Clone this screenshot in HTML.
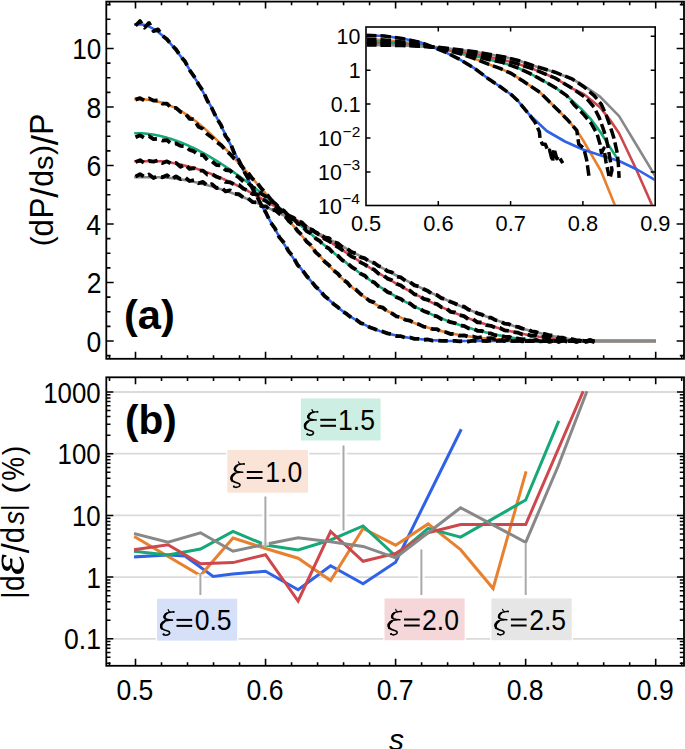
<!DOCTYPE html>
<html><head><meta charset="utf-8"><style>
html,body{margin:0;padding:0;background:#fff;}
svg{display:block;}
</style></head><body>
<svg width="685" height="749" viewBox="0 0 685 749">
<rect width="685" height="749" fill="#fff"/>
<defs><clipPath id="ca"><rect x="107" y="2.5" width="576" height="355.5"/></clipPath><clipPath id="cb"><rect x="107" y="378" width="576" height="287"/></clipPath><clipPath id="ci"><rect x="366.8" y="27.8" width="287.6" height="176.9"/></clipPath></defs>
<g clip-path="url(#ca)" fill="none" stroke-linejoin="round">
<polyline points="135.5,24.4 136.5,24.4 137.5,24.4 138.5,24.4 139.5,24.4 140.5,24.4 141.5,24.5 142.5,24.6 143.5,24.8 144.5,25.1 145.5,25.4 146.5,25.7 147.5,26.0 148.5,26.4 149.5,26.9 150.5,27.3 151.5,27.8 152.5,28.4 153.5,28.9 154.5,29.5 155.5,30.2 156.5,30.9 157.5,31.6 158.5,32.3 159.5,33.1 160.5,33.9 161.5,34.7 162.5,35.6 163.5,36.5 164.5,37.4 165.5,38.4 166.5,39.4 167.5,40.4 168.5,41.5 169.5,42.5 170.5,43.6 171.5,44.8 172.5,45.9 173.5,47.1 174.5,48.3 175.5,49.6 176.5,50.8 177.5,52.1 178.5,53.4 179.5,54.8 180.5,56.1 181.5,57.5 182.5,58.9 183.5,60.3 184.5,61.8 185.5,63.3 186.5,64.8 187.5,66.3 188.5,67.8 189.5,69.4 190.5,70.9 191.5,72.5 192.5,74.1 193.5,75.8 194.5,77.4 195.5,79.1 196.5,80.7 197.5,82.4 198.5,84.1 199.5,85.9 200.5,87.6 201.5,89.4 202.5,91.1 203.5,92.9 204.5,94.7 205.5,96.5 206.5,98.3 207.5,100.2 208.5,102.0 209.5,103.9 210.5,105.7 211.5,107.6 212.5,109.5 213.5,111.4 214.5,113.3 215.5,115.2 216.5,117.1 217.5,119.0 218.5,121.0 219.5,122.9 220.5,124.9 221.5,126.8 222.5,128.8 223.5,130.7 224.5,132.7 225.5,134.7 226.5,136.6 227.5,138.6 228.5,140.6 229.5,142.6 230.5,144.6 231.5,146.5 232.5,148.5 233.5,150.5 234.5,152.5 235.5,154.5 236.5,156.5 237.5,158.5 238.5,160.5 239.5,162.5 240.5,164.5 241.5,166.4 242.5,168.4 243.5,170.4 244.5,172.4 245.5,174.4 246.5,176.3 247.5,178.3 248.5,180.2 249.5,182.2 250.5,184.2 251.5,186.1 252.5,188.0 253.5,190.0 254.5,191.9 255.5,193.8 256.5,195.7 257.5,197.6 258.5,199.5 259.5,201.4 260.5,203.3 261.5,205.1 262.5,207.0 263.5,208.8 264.5,210.7 265.5,212.5 266.5,214.3 267.5,216.1 268.5,217.9 269.5,219.7 270.5,221.5 271.5,223.2 272.5,225.0 273.5,226.7 274.5,228.4 275.5,230.1 276.5,231.8 277.5,233.5 278.5,235.1 279.5,236.8 280.5,238.4 281.5,240.1 282.5,241.7 283.5,243.3 284.5,244.8 285.5,246.4 286.5,248.0 287.5,249.5 288.5,251.0 289.5,252.5 290.5,254.0 291.5,255.5 292.5,256.9 293.5,258.4 294.5,259.8 295.5,261.2 296.5,262.6 297.5,264.0 298.5,265.3 299.5,266.7 300.5,268.0 301.5,269.3 302.5,270.6 303.5,271.9 304.5,273.2 305.5,274.4 306.5,275.7 307.5,276.9 308.5,278.1 309.5,279.3 310.5,280.5 311.5,281.7 312.5,282.8 313.5,284.0 314.5,285.1 315.5,286.2 316.5,287.3 317.5,288.4 318.5,289.4 319.5,290.5 320.5,291.5 321.5,292.6 322.5,293.6 323.5,294.6 324.5,295.5 325.5,296.5 326.5,297.5 327.5,298.4 328.5,299.3 329.5,300.3 330.5,301.2 331.5,302.1 332.5,302.9 333.5,303.8 334.5,304.7 335.5,305.5 336.5,306.3 337.5,307.1 338.5,307.9 339.5,308.7 340.5,309.5 341.5,310.3 342.5,311.0 343.5,311.8 344.5,312.5 345.5,313.2 346.5,313.9 347.5,314.6 348.5,315.3 349.5,315.9 350.5,316.6 351.5,317.2 352.5,317.9 353.5,318.5 354.5,319.1 355.5,319.7 356.5,320.3 357.5,320.9 358.5,321.4 359.5,322.0 360.5,322.5 361.5,323.1 362.5,323.6 363.5,324.1 364.5,324.6 365.5,325.1 366.5,325.6 367.5,326.0 368.5,326.5 369.5,326.9 370.5,327.4 371.5,327.8 372.5,328.2 373.5,328.6 374.5,329.0 375.5,329.4 376.5,329.8 377.5,330.2 378.5,330.5 379.5,330.9 380.5,331.2 381.5,331.5 382.5,331.9 383.5,332.2 384.5,332.5 385.5,332.8 386.5,333.1 387.5,333.3 388.5,333.6 389.5,333.9 390.5,334.1 391.5,334.4 392.5,334.6 393.5,334.9 394.5,335.1 395.5,335.3 396.5,335.5 397.5,335.8 398.5,336.0 399.5,336.2 400.5,336.3 401.5,336.5 402.5,336.7 403.5,336.9 404.5,337.1 405.5,337.2 406.5,337.4 407.5,337.5 408.5,337.7 409.5,337.8 410.5,338.0 411.5,338.1 412.5,338.2 413.5,338.4 414.5,338.5 415.5,338.6 416.5,338.7 417.5,338.8 418.5,338.9 419.5,339.1 420.5,339.2 421.5,339.3 422.5,339.4 423.5,339.5 424.5,339.5 425.5,339.6 426.5,339.7 427.5,339.8 428.5,339.9 429.5,340.0 430.5,340.0 431.5,340.1 432.5,340.2 433.5,340.2 434.5,340.3 435.5,340.4 436.5,340.4 437.5,340.5 438.5,340.5 439.5,340.6 440.5,340.6 441.5,340.7 442.5,340.7 443.5,340.7 444.5,341.0 445.5,341.0 446.5,341.0 447.5,341.0 448.5,341.0 449.5,341.0 450.5,341.0 451.5,341.0 452.5,341.0 453.5,341.0 454.5,341.0 455.5,341.0 456.5,341.0 457.5,341.0 458.5,341.0 459.5,341.0 460.5,341.0 461.5,341.0 462.5,341.0 463.5,341.0 464.5,341.0 465.5,341.0 466.5,341.0 467.5,341.0 468.5,341.0 469.5,341.0 470.5,341.0 471.5,341.0 472.5,341.0 473.5,341.0 474.5,341.0 475.5,341.0 476.5,341.0 477.5,341.0 478.5,341.0 479.5,341.0 480.5,341.0 481.5,341.0 482.5,341.0 483.5,341.0 484.5,341.0 485.5,341.0 486.5,341.0 487.5,341.0 488.5,341.0 489.5,341.0 490.5,341.0 491.5,341.0 492.5,341.0 493.5,341.0 494.5,341.0 495.5,341.0 496.5,341.0 497.5,341.0 498.5,341.0 499.5,341.0 500.5,341.0 501.5,341.0 502.5,341.0 503.5,341.0 504.5,341.0 505.5,341.0 506.5,341.0 507.5,341.0 508.5,341.0 509.5,341.0 510.5,341.0 511.5,341.0 512.5,341.0 513.5,341.0 514.5,341.0 515.5,341.0 516.5,341.0 517.5,341.0 518.5,341.0 519.5,341.0 520.5,341.0 521.5,341.0 522.5,341.0 523.5,341.0 524.5,341.0 525.5,341.0 526.5,341.0 527.5,341.0 528.5,341.0 529.5,341.0 530.5,341.0 531.5,341.0 532.5,341.0 533.5,341.0 534.5,341.0 535.5,341.0 536.5,341.0 537.5,341.0 538.5,341.0 539.5,341.0 540.5,341.0 541.5,341.0 542.5,341.0 543.5,341.0 544.5,341.0 545.5,341.0 546.5,341.0 547.5,341.0 548.5,341.0 549.5,341.0 550.5,341.0 551.5,341.0 552.5,341.0 553.5,341.0 554.5,341.0 555.5,341.0 556.5,341.0 557.5,341.0 558.5,341.0 559.5,341.0 560.5,341.0 561.5,341.0 562.5,341.0 563.5,341.0 564.5,341.0 565.5,341.0 566.5,341.0 567.5,341.0 568.5,341.0 569.5,341.0 570.5,341.0 571.5,341.0 572.5,341.0 573.5,341.0 574.5,341.0 575.5,341.0 576.5,341.0 577.5,341.0 578.5,341.0 579.5,341.0 580.5,341.0 581.5,341.0 582.5,341.0 583.5,341.0 584.5,341.0 585.5,341.0 586.5,341.0 587.5,341.0 588.5,341.0 589.5,341.0 590.5,341.0 591.5,341.0 592.5,341.0 593.5,341.0 594.5,341.0 595.5,341.0 596.5,341.0 597.5,341.0 598.5,341.0 599.5,341.0 600.5,341.0 601.5,341.0 602.5,341.0 603.5,341.0 604.5,341.0 605.5,341.0 606.5,341.0 607.5,341.0 608.5,341.0 609.5,341.0 610.5,341.0 611.5,341.0 612.5,341.0 613.5,341.0 614.5,341.0 615.5,341.0 616.5,341.0 617.5,341.0 618.5,341.0 619.5,341.0 620.5,341.0 621.5,341.0 622.5,341.0 623.5,341.0 624.5,341.0 625.5,341.0 626.5,341.0 627.5,341.0 628.5,341.0 629.5,341.0 630.5,341.0 631.5,341.0 632.5,341.0 633.5,341.0 634.5,341.0 635.5,341.0 636.5,341.0 637.5,341.0 638.5,341.0 639.5,341.0 640.5,341.0 641.5,341.0 642.5,341.0 643.5,341.0 644.5,341.0 645.5,341.0 646.5,341.0 647.5,341.0 648.5,341.0 649.5,341.0 650.5,341.0 651.5,341.0 652.5,341.0 653.5,341.0 654.5,341.0" stroke="#2f62e6" stroke-width="2.6" stroke-linecap="square"/>
<polyline points="135.5,99.1 136.5,99.1 137.5,99.1 138.5,99.1 139.5,99.1 140.5,99.2 141.5,99.2 142.5,99.3 143.5,99.3 144.5,99.4 145.5,99.5 146.5,99.6 147.5,99.7 148.5,99.8 149.5,100.0 150.5,100.1 151.5,100.3 152.5,100.4 153.5,100.6 154.5,100.8 155.5,101.0 156.5,101.3 157.5,101.5 158.5,101.8 159.5,102.0 160.5,102.3 161.5,102.6 162.5,102.9 163.5,103.2 164.5,103.6 165.5,103.9 166.5,104.3 167.5,104.7 168.5,105.0 169.5,105.4 170.5,105.9 171.5,106.3 172.5,106.7 173.5,107.2 174.5,107.7 175.5,108.2 176.5,108.7 177.5,109.2 178.5,109.7 179.5,110.3 180.5,110.9 181.5,111.4 182.5,112.0 183.5,112.6 184.5,113.3 185.5,113.9 186.5,114.6 187.5,115.2 188.5,115.9 189.5,116.6 190.5,117.3 191.5,118.0 192.5,118.8 193.5,119.5 194.5,120.3 195.5,121.0 196.5,121.8 197.5,122.6 198.5,123.4 199.5,124.2 200.5,125.1 201.5,125.9 202.5,126.8 203.5,127.6 204.5,128.5 205.5,129.4 206.5,130.3 207.5,131.2 208.5,132.1 209.5,133.0 210.5,133.9 211.5,134.9 212.5,135.8 213.5,136.8 214.5,137.7 215.5,138.7 216.5,139.7 217.5,140.6 218.5,141.6 219.5,142.6 220.5,143.6 221.5,144.7 222.5,145.7 223.5,146.7 224.5,147.7 225.5,148.8 226.5,149.8 227.5,150.9 228.5,151.9 229.5,153.0 230.5,154.1 231.5,155.1 232.5,156.2 233.5,157.3 234.5,158.4 235.5,159.5 236.5,160.6 237.5,161.7 238.5,162.8 239.5,163.9 240.5,165.0 241.5,166.1 242.5,167.2 243.5,168.3 244.5,169.4 245.5,170.5 246.5,171.7 247.5,172.8 248.5,173.9 249.5,175.1 250.5,176.2 251.5,177.3 252.5,178.4 253.5,179.6 254.5,180.7 255.5,181.8 256.5,183.0 257.5,184.1 258.5,185.3 259.5,186.4 260.5,187.5 261.5,188.7 262.5,189.8 263.5,191.0 264.5,192.1 265.5,193.3 266.5,194.4 267.5,195.6 268.5,196.7 269.5,197.9 270.5,199.0 271.5,200.2 272.5,201.4 273.5,202.5 274.5,203.7 275.5,204.9 276.5,206.0 277.5,207.2 278.5,208.4 279.5,209.5 280.5,210.7 281.5,211.9 282.5,213.1 283.5,214.2 284.5,215.4 285.5,216.6 286.5,217.8 287.5,218.9 288.5,220.1 289.5,221.3 290.5,222.5 291.5,223.7 292.5,224.8 293.5,226.0 294.5,227.2 295.5,228.4 296.5,229.5 297.5,230.7 298.5,231.9 299.5,233.0 300.5,234.2 301.5,235.3 302.5,236.5 303.5,237.7 304.5,238.8 305.5,240.0 306.5,241.1 307.5,242.3 308.5,243.4 309.5,244.5 310.5,245.7 311.5,246.8 312.5,247.9 313.5,249.0 314.5,250.2 315.5,251.3 316.5,252.4 317.5,253.5 318.5,254.6 319.5,255.7 320.5,256.7 321.5,257.8 322.5,258.9 323.5,260.0 324.5,261.0 325.5,262.1 326.5,263.1 327.5,264.2 328.5,265.2 329.5,266.3 330.5,267.3 331.5,268.3 332.5,269.3 333.5,270.3 334.5,271.3 335.5,272.3 336.5,273.3 337.5,274.2 338.5,275.2 339.5,276.1 340.5,277.1 341.5,278.0 342.5,278.9 343.5,279.9 344.5,280.8 345.5,281.7 346.5,282.5 347.5,283.4 348.5,284.3 349.5,285.2 350.5,286.0 351.5,286.8 352.5,287.7 353.5,288.5 354.5,289.3 355.5,290.1 356.5,290.9 357.5,291.7 358.5,292.4 359.5,293.2 360.5,294.0 361.5,294.7 362.5,295.4 363.5,296.2 364.5,296.9 365.5,297.6 366.5,298.3 367.5,299.0 368.5,299.7 369.5,300.3 370.5,301.0 371.5,301.7 372.5,302.3 373.5,303.0 374.5,303.6 375.5,304.2 376.5,304.8 377.5,305.4 378.5,306.0 379.5,306.6 380.5,307.2 381.5,307.8 382.5,308.4 383.5,308.9 384.5,309.5 385.5,310.0 386.5,310.6 387.5,311.1 388.5,311.6 389.5,312.2 390.5,312.7 391.5,313.2 392.5,313.7 393.5,314.2 394.5,314.7 395.5,315.1 396.5,315.6 397.5,316.1 398.5,316.5 399.5,317.0 400.5,317.4 401.5,317.9 402.5,318.3 403.5,318.7 404.5,319.2 405.5,319.6 406.5,320.0 407.5,320.4 408.5,320.8 409.5,321.2 410.5,321.6 411.5,321.9 412.5,322.3 413.5,322.7 414.5,323.1 415.5,323.4 416.5,323.8 417.5,324.1 418.5,324.5 419.5,324.8 420.5,325.1 421.5,325.5 422.5,325.8 423.5,326.1 424.5,326.4 425.5,326.7 426.5,327.1 427.5,327.4 428.5,327.7 429.5,327.9 430.5,328.2 431.5,328.5 432.5,328.8 433.5,329.1 434.5,329.4 435.5,329.6 436.5,329.9 437.5,330.1 438.5,330.4 439.5,330.7 440.5,330.9 441.5,331.1 442.5,331.4 443.5,331.6 444.5,331.9 445.5,332.1 446.5,332.3 447.5,332.5 448.5,332.7 449.5,333.0 450.5,333.2 451.5,333.4 452.5,333.6 453.5,333.8 454.5,334.0 455.5,334.2 456.5,334.4 457.5,334.5 458.5,334.7 459.5,334.9 460.5,335.1 461.5,335.2 462.5,335.4 463.5,335.6 464.5,335.7 465.5,335.9 466.5,336.0 467.5,336.2 468.5,336.3 469.5,336.5 470.5,336.6 471.5,336.8 472.5,336.9 473.5,337.0 474.5,337.2 475.5,337.3 476.5,337.4 477.5,337.5 478.5,337.7 479.5,337.8 480.5,337.9 481.5,338.0 482.5,338.1 483.5,338.2 484.5,338.3 485.5,338.4 486.5,338.5 487.5,338.6 488.5,338.7 489.5,338.8 490.5,338.8 491.5,338.9 492.5,339.0 493.5,339.1 494.5,339.2 495.5,339.2 496.5,339.3 497.5,339.4 498.5,339.4 499.5,339.5 500.5,339.6 501.5,339.6 502.5,339.7 503.5,339.7 504.5,339.8 505.5,339.8 506.5,339.9 507.5,339.9 508.5,340.0 509.5,340.0 510.5,340.1 511.5,340.1 512.5,340.1 513.5,340.2 514.5,340.2 515.5,340.2 516.5,340.3 517.5,340.3 518.5,340.3 519.5,340.4 520.5,340.4 521.5,340.4 522.5,340.4 523.5,340.4 524.5,340.5 525.5,340.5 526.5,340.5 527.5,340.5 528.5,340.5 529.5,340.5 530.5,341.0 531.5,341.0 532.5,341.0 533.5,341.0 534.5,341.0 535.5,341.0 536.5,341.0 537.5,341.0 538.5,341.0 539.5,341.0 540.5,341.0 541.5,341.0 542.5,341.0 543.5,341.0 544.5,341.0 545.5,341.0 546.5,341.0 547.5,341.0 548.5,341.0 549.5,341.0 550.5,341.0 551.5,341.0 552.5,341.0 553.5,341.0 554.5,341.0 555.5,341.0 556.5,341.0 557.5,341.0 558.5,341.0 559.5,341.0 560.5,341.0 561.5,341.0 562.5,341.0 563.5,341.0 564.5,341.0 565.5,341.0 566.5,341.0 567.5,341.0 568.5,341.0 569.5,341.0 570.5,341.0 571.5,341.0 572.5,341.0 573.5,341.0 574.5,341.0 575.5,341.0 576.5,341.0 577.5,341.0 578.5,341.0 579.5,341.0 580.5,341.0 581.5,341.0 582.5,341.0 583.5,341.0 584.5,341.0 585.5,341.0 586.5,341.0 587.5,341.0 588.5,341.0 589.5,341.0 590.5,341.0 591.5,341.0 592.5,341.0 593.5,341.0 594.5,341.0 595.5,341.0 596.5,341.0 597.5,341.0 598.5,341.0 599.5,341.0 600.5,341.0 601.5,341.0 602.5,341.0 603.5,341.0 604.5,341.0 605.5,341.0 606.5,341.0 607.5,341.0 608.5,341.0 609.5,341.0 610.5,341.0 611.5,341.0 612.5,341.0 613.5,341.0 614.5,341.0 615.5,341.0 616.5,341.0 617.5,341.0 618.5,341.0 619.5,341.0 620.5,341.0 621.5,341.0 622.5,341.0 623.5,341.0 624.5,341.0 625.5,341.0 626.5,341.0 627.5,341.0 628.5,341.0 629.5,341.0 630.5,341.0 631.5,341.0 632.5,341.0 633.5,341.0 634.5,341.0 635.5,341.0 636.5,341.0 637.5,341.0 638.5,341.0 639.5,341.0 640.5,341.0 641.5,341.0 642.5,341.0 643.5,341.0 644.5,341.0 645.5,341.0 646.5,341.0 647.5,341.0 648.5,341.0 649.5,341.0 650.5,341.0 651.5,341.0 652.5,341.0 653.5,341.0 654.5,341.0" stroke="#e8812f" stroke-width="2.6" stroke-linecap="square"/>
<polyline points="135.5,133.2 136.5,133.2 137.5,133.2 138.5,133.2 139.5,133.2 140.5,133.3 141.5,133.3 142.5,133.4 143.5,133.5 144.5,133.5 145.5,133.6 146.5,133.7 147.5,133.8 148.5,133.9 149.5,134.1 150.5,134.2 151.5,134.3 152.5,134.5 153.5,134.7 154.5,134.8 155.5,135.0 156.5,135.2 157.5,135.4 158.5,135.6 159.5,135.8 160.5,136.1 161.5,136.3 162.5,136.5 163.5,136.8 164.5,137.0 165.5,137.3 166.5,137.6 167.5,137.9 168.5,138.2 169.5,138.5 170.5,138.8 171.5,139.1 172.5,139.4 173.5,139.8 174.5,140.1 175.5,140.5 176.5,140.8 177.5,141.2 178.5,141.6 179.5,141.9 180.5,142.3 181.5,142.7 182.5,143.1 183.5,143.5 184.5,144.0 185.5,144.4 186.5,144.8 187.5,145.2 188.5,145.7 189.5,146.1 190.5,146.6 191.5,147.1 192.5,147.5 193.5,148.0 194.5,148.5 195.5,149.0 196.5,149.5 197.5,150.0 198.5,150.5 199.5,151.1 200.5,151.6 201.5,152.1 202.5,152.7 203.5,153.2 204.5,153.7 205.5,154.3 206.5,154.9 207.5,155.4 208.5,156.0 209.5,156.6 210.5,157.2 211.5,157.8 212.5,158.4 213.5,159.0 214.5,159.6 215.5,160.2 216.5,160.8 217.5,161.4 218.5,162.1 219.5,162.7 220.5,163.3 221.5,164.0 222.5,164.6 223.5,165.3 224.5,165.9 225.5,166.6 226.5,167.3 227.5,167.9 228.5,168.6 229.5,169.3 230.5,170.0 231.5,170.7 232.5,171.4 233.5,172.1 234.5,172.8 235.5,173.5 236.5,174.2 237.5,174.9 238.5,175.6 239.5,176.3 240.5,177.1 241.5,177.8 242.5,178.5 243.5,179.3 244.5,180.0 245.5,180.8 246.5,181.5 247.5,182.3 248.5,183.0 249.5,183.8 250.5,184.5 251.5,185.3 252.5,186.1 253.5,186.8 254.5,187.6 255.5,188.4 256.5,189.2 257.5,190.0 258.5,190.7 259.5,191.5 260.5,192.3 261.5,193.1 262.5,193.9 263.5,194.7 264.5,195.5 265.5,196.3 266.5,197.1 267.5,197.9 268.5,198.7 269.5,199.5 270.5,200.3 271.5,201.2 272.5,202.0 273.5,202.8 274.5,203.6 275.5,204.4 276.5,205.2 277.5,206.1 278.5,206.9 279.5,207.7 280.5,208.5 281.5,209.4 282.5,210.2 283.5,211.0 284.5,211.9 285.5,212.7 286.5,213.5 287.5,214.4 288.5,215.2 289.5,216.0 290.5,216.9 291.5,217.7 292.5,218.6 293.5,219.4 294.5,220.2 295.5,221.1 296.5,221.9 297.5,222.8 298.5,223.6 299.5,224.4 300.5,225.3 301.5,226.1 302.5,227.0 303.5,227.8 304.5,228.6 305.5,229.5 306.5,230.3 307.5,231.2 308.5,232.0 309.5,232.8 310.5,233.7 311.5,234.5 312.5,235.3 313.5,236.2 314.5,237.0 315.5,237.8 316.5,238.7 317.5,239.5 318.5,240.3 319.5,241.2 320.5,242.0 321.5,242.8 322.5,243.7 323.5,244.5 324.5,245.3 325.5,246.1 326.5,246.9 327.5,247.8 328.5,248.6 329.5,249.4 330.5,250.2 331.5,251.0 332.5,251.8 333.5,252.6 334.5,253.4 335.5,254.2 336.5,255.0 337.5,255.8 338.5,256.6 339.5,257.4 340.5,258.2 341.5,259.0 342.5,259.8 343.5,260.6 344.5,261.4 345.5,262.1 346.5,262.9 347.5,263.7 348.5,264.5 349.5,265.2 350.5,266.0 351.5,266.8 352.5,267.5 353.5,268.3 354.5,269.0 355.5,269.8 356.5,270.5 357.5,271.2 358.5,272.0 359.5,272.7 360.5,273.4 361.5,274.2 362.5,274.9 363.5,275.6 364.5,276.3 365.5,277.0 366.5,277.7 367.5,278.4 368.5,279.1 369.5,279.8 370.5,280.5 371.5,281.2 372.5,281.9 373.5,282.6 374.5,283.2 375.5,283.9 376.5,284.6 377.5,285.2 378.5,285.9 379.5,286.5 380.5,287.2 381.5,287.8 382.5,288.4 383.5,289.1 384.5,289.7 385.5,290.3 386.5,290.9 387.5,291.6 388.5,292.2 389.5,292.8 390.5,293.4 391.5,294.0 392.5,294.5 393.5,295.1 394.5,295.7 395.5,296.3 396.5,296.9 397.5,297.4 398.5,298.0 399.5,298.6 400.5,299.1 401.5,299.7 402.5,300.2 403.5,300.8 404.5,301.3 405.5,301.8 406.5,302.4 407.5,302.9 408.5,303.4 409.5,303.9 410.5,304.5 411.5,305.0 412.5,305.5 413.5,306.0 414.5,306.5 415.5,307.0 416.5,307.5 417.5,307.9 418.5,308.4 419.5,308.9 420.5,309.4 421.5,309.9 422.5,310.3 423.5,310.8 424.5,311.2 425.5,311.7 426.5,312.1 427.5,312.6 428.5,313.0 429.5,313.5 430.5,313.9 431.5,314.3 432.5,314.8 433.5,315.2 434.5,315.6 435.5,316.0 436.5,316.4 437.5,316.9 438.5,317.3 439.5,317.7 440.5,318.1 441.5,318.5 442.5,318.8 443.5,319.2 444.5,319.6 445.5,320.0 446.5,320.4 447.5,320.7 448.5,321.1 449.5,321.5 450.5,321.8 451.5,322.2 452.5,322.5 453.5,322.9 454.5,323.2 455.5,323.6 456.5,323.9 457.5,324.3 458.5,324.6 459.5,324.9 460.5,325.3 461.5,325.6 462.5,325.9 463.5,326.2 464.5,326.5 465.5,326.8 466.5,327.1 467.5,327.4 468.5,327.7 469.5,328.0 470.5,328.3 471.5,328.6 472.5,328.9 473.5,329.2 474.5,329.5 475.5,329.7 476.5,330.0 477.5,330.3 478.5,330.6 479.5,330.8 480.5,331.1 481.5,331.3 482.5,331.6 483.5,331.8 484.5,332.1 485.5,332.3 486.5,332.6 487.5,332.8 488.5,333.1 489.5,333.3 490.5,333.5 491.5,333.7 492.5,334.0 493.5,334.2 494.5,334.4 495.5,334.6 496.5,334.8 497.5,335.0 498.5,335.2 499.5,335.4 500.5,335.6 501.5,335.8 502.5,336.0 503.5,336.2 504.5,336.4 505.5,336.6 506.5,336.8 507.5,337.0 508.5,337.1 509.5,337.3 510.5,337.5 511.5,337.6 512.5,337.8 513.5,338.0 514.5,338.1 515.5,338.3 516.5,338.4 517.5,338.6 518.5,338.8 519.5,338.9 520.5,339.0 521.5,339.2 522.5,339.3 523.5,339.5 524.5,339.6 525.5,339.7 526.5,339.9 527.5,340.0 528.5,340.1 529.5,340.2 530.5,340.3 531.5,340.5 532.5,341.0 533.5,341.0 534.5,341.0 535.5,341.0 536.5,341.0 537.5,341.0 538.5,341.0 539.5,341.0 540.5,341.0 541.5,341.0 542.5,341.0 543.5,341.0 544.5,341.0 545.5,341.0 546.5,341.0 547.5,341.0 548.5,341.0 549.5,341.0 550.5,341.0 551.5,341.0 552.5,341.0 553.5,341.0 554.5,341.0 555.5,341.0 556.5,341.0 557.5,341.0 558.5,341.0 559.5,341.0 560.5,341.0 561.5,341.0 562.5,341.0 563.5,341.0 564.5,341.0 565.5,341.0 566.5,341.0 567.5,341.0 568.5,341.0 569.5,341.0 570.5,341.0 571.5,341.0 572.5,341.0 573.5,341.0 574.5,341.0 575.5,341.0 576.5,341.0 577.5,341.0 578.5,341.0 579.5,341.0 580.5,341.0 581.5,341.0 582.5,341.0 583.5,341.0 584.5,341.0 585.5,341.0 586.5,341.0 587.5,341.0 588.5,341.0 589.5,341.0 590.5,341.0 591.5,341.0 592.5,341.0 593.5,341.0 594.5,341.0 595.5,341.0 596.5,341.0 597.5,341.0 598.5,341.0 599.5,341.0 600.5,341.0 601.5,341.0 602.5,341.0 603.5,341.0 604.5,341.0 605.5,341.0 606.5,341.0 607.5,341.0 608.5,341.0 609.5,341.0 610.5,341.0 611.5,341.0 612.5,341.0 613.5,341.0 614.5,341.0 615.5,341.0 616.5,341.0 617.5,341.0 618.5,341.0 619.5,341.0 620.5,341.0 621.5,341.0 622.5,341.0 623.5,341.0 624.5,341.0 625.5,341.0 626.5,341.0 627.5,341.0 628.5,341.0 629.5,341.0 630.5,341.0 631.5,341.0 632.5,341.0 633.5,341.0 634.5,341.0 635.5,341.0 636.5,341.0 637.5,341.0 638.5,341.0 639.5,341.0 640.5,341.0 641.5,341.0 642.5,341.0 643.5,341.0 644.5,341.0 645.5,341.0 646.5,341.0 647.5,341.0 648.5,341.0 649.5,341.0 650.5,341.0 651.5,341.0 652.5,341.0 653.5,341.0 654.5,341.0" stroke="#15a878" stroke-width="2.6" stroke-linecap="square"/>
<polyline points="135.5,161.2 136.5,161.2 137.5,161.2 138.5,161.2 139.5,161.2 140.5,161.2 141.5,161.2 142.5,161.2 143.5,161.2 144.5,161.2 145.5,161.2 146.5,161.2 147.5,161.2 148.5,161.2 149.5,161.2 150.5,161.2 151.5,161.2 152.5,161.2 153.5,161.2 154.5,161.2 155.5,161.2 156.5,161.2 157.5,161.2 158.5,161.2 159.5,161.2 160.5,161.3 161.5,161.4 162.5,161.5 163.5,161.6 164.5,161.7 165.5,161.9 166.5,162.0 167.5,162.1 168.5,162.3 169.5,162.4 170.5,162.6 171.5,162.7 172.5,162.9 173.5,163.1 174.5,163.3 175.5,163.5 176.5,163.6 177.5,163.8 178.5,164.1 179.5,164.3 180.5,164.5 181.5,164.7 182.5,164.9 183.5,165.2 184.5,165.4 185.5,165.7 186.5,165.9 187.5,166.2 188.5,166.4 189.5,166.7 190.5,167.0 191.5,167.3 192.5,167.6 193.5,167.9 194.5,168.2 195.5,168.5 196.5,168.8 197.5,169.1 198.5,169.4 199.5,169.7 200.5,170.1 201.5,170.4 202.5,170.7 203.5,171.1 204.5,171.4 205.5,171.8 206.5,172.2 207.5,172.5 208.5,172.9 209.5,173.3 210.5,173.6 211.5,174.0 212.5,174.4 213.5,174.8 214.5,175.2 215.5,175.6 216.5,176.0 217.5,176.4 218.5,176.9 219.5,177.3 220.5,177.7 221.5,178.1 222.5,178.6 223.5,179.0 224.5,179.5 225.5,179.9 226.5,180.4 227.5,180.8 228.5,181.3 229.5,181.7 230.5,182.2 231.5,182.7 232.5,183.2 233.5,183.6 234.5,184.1 235.5,184.6 236.5,185.1 237.5,185.6 238.5,186.1 239.5,186.6 240.5,187.1 241.5,187.6 242.5,188.1 243.5,188.6 244.5,189.2 245.5,189.7 246.5,190.2 247.5,190.7 248.5,191.3 249.5,191.8 250.5,192.3 251.5,192.9 252.5,193.4 253.5,194.0 254.5,194.5 255.5,195.1 256.5,195.6 257.5,196.2 258.5,196.8 259.5,197.3 260.5,197.9 261.5,198.5 262.5,199.1 263.5,199.6 264.5,200.2 265.5,200.8 266.5,201.4 267.5,202.0 268.5,202.6 269.5,203.2 270.5,203.7 271.5,204.3 272.5,204.9 273.5,205.5 274.5,206.1 275.5,206.8 276.5,207.4 277.5,208.0 278.5,208.6 279.5,209.2 280.5,209.8 281.5,210.4 282.5,211.1 283.5,211.7 284.5,212.3 285.5,212.9 286.5,213.5 287.5,214.2 288.5,214.8 289.5,215.4 290.5,216.1 291.5,216.7 292.5,217.3 293.5,218.0 294.5,218.6 295.5,219.3 296.5,219.9 297.5,220.5 298.5,221.2 299.5,221.8 300.5,222.5 301.5,223.1 302.5,223.8 303.5,224.4 304.5,225.1 305.5,225.7 306.5,226.4 307.5,227.0 308.5,227.7 309.5,228.3 310.5,229.0 311.5,229.7 312.5,230.3 313.5,231.0 314.5,231.6 315.5,232.3 316.5,233.0 317.5,233.6 318.5,234.3 319.5,234.9 320.5,235.6 321.5,236.3 322.5,236.9 323.5,237.6 324.5,238.2 325.5,238.9 326.5,239.6 327.5,240.2 328.5,240.9 329.5,241.5 330.5,242.2 331.5,242.9 332.5,243.5 333.5,244.2 334.5,244.9 335.5,245.5 336.5,246.2 337.5,246.8 338.5,247.5 339.5,248.2 340.5,248.8 341.5,249.5 342.5,250.1 343.5,250.8 344.5,251.4 345.5,252.1 346.5,252.8 347.5,253.4 348.5,254.1 349.5,254.7 350.5,255.4 351.5,256.0 352.5,256.7 353.5,257.3 354.5,258.0 355.5,258.6 356.5,259.3 357.5,259.9 358.5,260.6 359.5,261.2 360.5,261.8 361.5,262.5 362.5,263.1 363.5,263.7 364.5,264.4 365.5,265.0 366.5,265.6 367.5,266.3 368.5,266.9 369.5,267.5 370.5,268.2 371.5,268.8 372.5,269.4 373.5,270.0 374.5,270.6 375.5,271.3 376.5,271.9 377.5,272.5 378.5,273.1 379.5,273.7 380.5,274.3 381.5,274.9 382.5,275.5 383.5,276.1 384.5,276.7 385.5,277.3 386.5,277.9 387.5,278.5 388.5,279.1 389.5,279.7 390.5,280.3 391.5,280.9 392.5,281.4 393.5,282.0 394.5,282.6 395.5,283.2 396.5,283.7 397.5,284.3 398.5,284.9 399.5,285.4 400.5,286.0 401.5,286.6 402.5,287.1 403.5,287.7 404.5,288.2 405.5,288.8 406.5,289.4 407.5,289.9 408.5,290.4 409.5,291.0 410.5,291.5 411.5,292.1 412.5,292.6 413.5,293.1 414.5,293.7 415.5,294.2 416.5,294.7 417.5,295.3 418.5,295.8 419.5,296.3 420.5,296.8 421.5,297.3 422.5,297.8 423.5,298.3 424.5,298.8 425.5,299.4 426.5,299.9 427.5,300.4 428.5,300.8 429.5,301.3 430.5,301.8 431.5,302.3 432.5,302.8 433.5,303.3 434.5,303.8 435.5,304.2 436.5,304.7 437.5,305.2 438.5,305.7 439.5,306.1 440.5,306.6 441.5,307.0 442.5,307.5 443.5,308.0 444.5,308.4 445.5,308.9 446.5,309.3 447.5,309.7 448.5,310.2 449.5,310.6 450.5,311.1 451.5,311.5 452.5,311.9 453.5,312.3 454.5,312.8 455.5,313.2 456.5,313.6 457.5,314.0 458.5,314.4 459.5,314.8 460.5,315.2 461.5,315.6 462.5,316.0 463.5,316.4 464.5,316.8 465.5,317.2 466.5,317.6 467.5,318.0 468.5,318.3 469.5,318.7 470.5,319.1 471.5,319.5 472.5,319.8 473.5,320.2 474.5,320.5 475.5,320.9 476.5,321.2 477.5,321.6 478.5,321.9 479.5,322.3 480.5,322.6 481.5,323.0 482.5,323.3 483.5,323.6 484.5,323.9 485.5,324.3 486.5,324.6 487.5,324.9 488.5,325.2 489.5,325.5 490.5,325.8 491.5,326.1 492.5,326.4 493.5,326.7 494.5,327.0 495.5,327.3 496.5,327.6 497.5,327.8 498.5,328.1 499.5,328.4 500.5,328.7 501.5,328.9 502.5,329.2 503.5,329.4 504.5,329.7 505.5,330.0 506.5,330.2 507.5,330.5 508.5,330.7 509.5,330.9 510.5,331.2 511.5,331.4 512.5,331.6 513.5,331.9 514.5,332.1 515.5,332.3 516.5,332.5 517.5,332.8 518.5,333.0 519.5,333.2 520.5,333.4 521.5,333.6 522.5,333.8 523.5,334.0 524.5,334.2 525.5,334.4 526.5,334.6 527.5,334.7 528.5,334.9 529.5,335.1 530.5,335.3 531.5,335.5 532.5,335.6 533.5,335.8 534.5,336.0 535.5,336.1 536.5,336.3 537.5,336.4 538.5,336.6 539.5,336.7 540.5,336.9 541.5,337.0 542.5,337.2 543.5,337.3 544.5,337.5 545.5,337.6 546.5,337.7 547.5,337.9 548.5,338.0 549.5,338.1 550.5,338.2 551.5,338.4 552.5,338.5 553.5,338.6 554.5,338.7 555.5,338.8 556.5,338.9 557.5,339.0 558.5,339.1 559.5,339.2 560.5,339.3 561.5,339.4 562.5,339.5 563.5,339.6 564.5,339.7 565.5,339.8 566.5,339.9 567.5,339.9 568.5,340.0 569.5,340.1 570.5,340.2 571.5,340.2 572.5,340.3 573.5,340.4 574.5,340.4 575.5,341.0 576.5,341.0 577.5,341.0 578.5,341.0 579.5,341.0 580.5,341.0 581.5,341.0 582.5,341.0 583.5,341.0 584.5,341.0 585.5,341.0 586.5,341.0 587.5,341.0 588.5,341.0 589.5,341.0 590.5,341.0 591.5,341.0 592.5,341.0 593.5,341.0 594.5,341.0 595.5,341.0 596.5,341.0 597.5,341.0 598.5,341.0 599.5,341.0 600.5,341.0 601.5,341.0 602.5,341.0 603.5,341.0 604.5,341.0 605.5,341.0 606.5,341.0 607.5,341.0 608.5,341.0 609.5,341.0 610.5,341.0 611.5,341.0 612.5,341.0 613.5,341.0 614.5,341.0 615.5,341.0 616.5,341.0 617.5,341.0 618.5,341.0 619.5,341.0 620.5,341.0 621.5,341.0 622.5,341.0 623.5,341.0 624.5,341.0 625.5,341.0 626.5,341.0 627.5,341.0 628.5,341.0 629.5,341.0 630.5,341.0 631.5,341.0 632.5,341.0 633.5,341.0 634.5,341.0 635.5,341.0 636.5,341.0 637.5,341.0 638.5,341.0 639.5,341.0 640.5,341.0 641.5,341.0 642.5,341.0 643.5,341.0 644.5,341.0 645.5,341.0 646.5,341.0 647.5,341.0 648.5,341.0 649.5,341.0 650.5,341.0 651.5,341.0 652.5,341.0 653.5,341.0 654.5,341.0" stroke="#cd474c" stroke-width="2.6" stroke-linecap="square"/>
<polyline points="135.5,177.3 136.5,177.3 137.5,177.3 138.5,177.3 139.5,177.3 140.5,177.3 141.5,177.3 142.5,177.3 143.5,177.3 144.5,177.3 145.5,177.3 146.5,177.3 147.5,177.3 148.5,177.3 149.5,177.3 150.5,177.3 151.5,177.3 152.5,177.3 153.5,177.3 154.5,177.3 155.5,177.3 156.5,177.3 157.5,177.3 158.5,177.3 159.5,177.3 160.5,177.3 161.5,177.3 162.5,177.3 163.5,177.3 164.5,177.4 165.5,177.5 166.5,177.6 167.5,177.7 168.5,177.7 169.5,177.9 170.5,178.0 171.5,178.1 172.5,178.2 173.5,178.3 174.5,178.4 175.5,178.6 176.5,178.7 177.5,178.9 178.5,179.0 179.5,179.2 180.5,179.3 181.5,179.5 182.5,179.6 183.5,179.8 184.5,180.0 185.5,180.2 186.5,180.3 187.5,180.5 188.5,180.7 189.5,180.9 190.5,181.1 191.5,181.3 192.5,181.5 193.5,181.7 194.5,182.0 195.5,182.2 196.5,182.4 197.5,182.6 198.5,182.9 199.5,183.1 200.5,183.4 201.5,183.6 202.5,183.9 203.5,184.1 204.5,184.4 205.5,184.6 206.5,184.9 207.5,185.2 208.5,185.5 209.5,185.7 210.5,186.0 211.5,186.3 212.5,186.6 213.5,186.9 214.5,187.2 215.5,187.5 216.5,187.8 217.5,188.1 218.5,188.4 219.5,188.7 220.5,189.1 221.5,189.4 222.5,189.7 223.5,190.0 224.5,190.4 225.5,190.7 226.5,191.1 227.5,191.4 228.5,191.8 229.5,192.1 230.5,192.5 231.5,192.8 232.5,193.2 233.5,193.5 234.5,193.9 235.5,194.3 236.5,194.7 237.5,195.0 238.5,195.4 239.5,195.8 240.5,196.2 241.5,196.6 242.5,197.0 243.5,197.4 244.5,197.8 245.5,198.2 246.5,198.6 247.5,199.0 248.5,199.4 249.5,199.8 250.5,200.2 251.5,200.6 252.5,201.0 253.5,201.5 254.5,201.9 255.5,202.3 256.5,202.7 257.5,203.2 258.5,203.6 259.5,204.1 260.5,204.5 261.5,204.9 262.5,205.4 263.5,205.8 264.5,206.3 265.5,206.7 266.5,207.2 267.5,207.6 268.5,208.1 269.5,208.6 270.5,209.0 271.5,209.5 272.5,210.0 273.5,210.4 274.5,210.9 275.5,211.4 276.5,211.9 277.5,212.3 278.5,212.8 279.5,213.3 280.5,213.8 281.5,214.3 282.5,214.8 283.5,215.2 284.5,215.7 285.5,216.2 286.5,216.7 287.5,217.2 288.5,217.7 289.5,218.2 290.5,218.7 291.5,219.2 292.5,219.7 293.5,220.2 294.5,220.7 295.5,221.2 296.5,221.8 297.5,222.3 298.5,222.8 299.5,223.3 300.5,223.8 301.5,224.3 302.5,224.9 303.5,225.4 304.5,225.9 305.5,226.4 306.5,226.9 307.5,227.5 308.5,228.0 309.5,228.5 310.5,229.1 311.5,229.6 312.5,230.1 313.5,230.6 314.5,231.2 315.5,231.7 316.5,232.2 317.5,232.8 318.5,233.3 319.5,233.9 320.5,234.4 321.5,234.9 322.5,235.5 323.5,236.0 324.5,236.5 325.5,237.1 326.5,237.6 327.5,238.2 328.5,238.7 329.5,239.3 330.5,239.8 331.5,240.4 332.5,240.9 333.5,241.4 334.5,242.0 335.5,242.5 336.5,243.1 337.5,243.6 338.5,244.2 339.5,244.7 340.5,245.3 341.5,245.8 342.5,246.4 343.5,246.9 344.5,247.5 345.5,248.0 346.5,248.6 347.5,249.1 348.5,249.7 349.5,250.2 350.5,250.8 351.5,251.3 352.5,251.9 353.5,252.4 354.5,253.0 355.5,253.5 356.5,254.1 357.5,254.6 358.5,255.1 359.5,255.7 360.5,256.2 361.5,256.8 362.5,257.3 363.5,257.9 364.5,258.4 365.5,259.0 366.5,259.5 367.5,260.1 368.5,260.6 369.5,261.2 370.5,261.7 371.5,262.2 372.5,262.8 373.5,263.3 374.5,263.9 375.5,264.4 376.5,264.9 377.5,265.5 378.5,266.0 379.5,266.5 380.5,267.1 381.5,267.6 382.5,268.2 383.5,268.7 384.5,269.2 385.5,269.7 386.5,270.3 387.5,270.8 388.5,271.3 389.5,271.9 390.5,272.4 391.5,272.9 392.5,273.4 393.5,274.0 394.5,274.5 395.5,275.0 396.5,275.5 397.5,276.0 398.5,276.6 399.5,277.1 400.5,277.6 401.5,278.1 402.5,278.6 403.5,279.1 404.5,279.7 405.5,280.2 406.5,280.7 407.5,281.2 408.5,281.7 409.5,282.2 410.5,282.7 411.5,283.2 412.5,283.7 413.5,284.2 414.5,284.7 415.5,285.2 416.5,285.7 417.5,286.2 418.5,286.7 419.5,287.2 420.5,287.7 421.5,288.2 422.5,288.7 423.5,289.1 424.5,289.6 425.5,290.1 426.5,290.6 427.5,291.1 428.5,291.6 429.5,292.0 430.5,292.5 431.5,293.0 432.5,293.5 433.5,293.9 434.5,294.4 435.5,294.9 436.5,295.4 437.5,295.8 438.5,296.3 439.5,296.7 440.5,297.2 441.5,297.7 442.5,298.1 443.5,298.6 444.5,299.0 445.5,299.5 446.5,300.0 447.5,300.4 448.5,300.9 449.5,301.3 450.5,301.7 451.5,302.2 452.5,302.6 453.5,303.1 454.5,303.5 455.5,304.0 456.5,304.4 457.5,304.8 458.5,305.3 459.5,305.7 460.5,306.1 461.5,306.5 462.5,307.0 463.5,307.4 464.5,307.8 465.5,308.2 466.5,308.6 467.5,309.1 468.5,309.5 469.5,309.9 470.5,310.3 471.5,310.7 472.5,311.1 473.5,311.5 474.5,311.9 475.5,312.3 476.5,312.7 477.5,313.1 478.5,313.5 479.5,313.9 480.5,314.3 481.5,314.7 482.5,315.0 483.5,315.4 484.5,315.8 485.5,316.2 486.5,316.6 487.5,316.9 488.5,317.3 489.5,317.7 490.5,318.0 491.5,318.4 492.5,318.8 493.5,319.1 494.5,319.5 495.5,319.8 496.5,320.2 497.5,320.6 498.5,320.9 499.5,321.3 500.5,321.6 501.5,321.9 502.5,322.3 503.5,322.6 504.5,323.0 505.5,323.3 506.5,323.6 507.5,323.9 508.5,324.3 509.5,324.6 510.5,324.9 511.5,325.2 512.5,325.5 513.5,325.9 514.5,326.2 515.5,326.5 516.5,326.8 517.5,327.1 518.5,327.4 519.5,327.7 520.5,328.0 521.5,328.3 522.5,328.6 523.5,328.9 524.5,329.1 525.5,329.4 526.5,329.7 527.5,330.0 528.5,330.3 529.5,330.5 530.5,330.8 531.5,331.1 532.5,331.3 533.5,331.6 534.5,331.8 535.5,332.1 536.5,332.4 537.5,332.6 538.5,332.9 539.5,333.1 540.5,333.3 541.5,333.6 542.5,333.8 543.5,334.0 544.5,334.3 545.5,334.5 546.5,334.7 547.5,334.9 548.5,335.2 549.5,335.4 550.5,335.6 551.5,335.8 552.5,336.0 553.5,336.2 554.5,336.4 555.5,336.6 556.5,336.8 557.5,337.0 558.5,337.2 559.5,337.4 560.5,337.6 561.5,337.7 562.5,337.9 563.5,338.1 564.5,338.3 565.5,338.4 566.5,338.6 567.5,338.7 568.5,338.9 569.5,339.1 570.5,339.2 571.5,339.4 572.5,339.5 573.5,339.6 574.5,339.8 575.5,339.9 576.5,340.0 577.5,340.2 578.5,340.3 579.5,340.4 580.5,341.0 581.5,341.0 582.5,341.0 583.5,341.0 584.5,341.0 585.5,341.0 586.5,341.0 587.5,341.0 588.5,341.0 589.5,341.0 590.5,341.0 591.5,341.0 592.5,341.0 593.5,341.0 594.5,341.0 595.5,341.0 596.5,341.0 597.5,341.0 598.5,341.0 599.5,341.0 600.5,341.0 601.5,341.0 602.5,341.0 603.5,341.0 604.5,341.0 605.5,341.0 606.5,341.0 607.5,341.0 608.5,341.0 609.5,341.0 610.5,341.0 611.5,341.0 612.5,341.0 613.5,341.0 614.5,341.0 615.5,341.0 616.5,341.0 617.5,341.0 618.5,341.0 619.5,341.0 620.5,341.0 621.5,341.0 622.5,341.0 623.5,341.0 624.5,341.0 625.5,341.0 626.5,341.0 627.5,341.0 628.5,341.0 629.5,341.0 630.5,341.0 631.5,341.0 632.5,341.0 633.5,341.0 634.5,341.0 635.5,341.0 636.5,341.0 637.5,341.0 638.5,341.0 639.5,341.0 640.5,341.0 641.5,341.0 642.5,341.0 643.5,341.0 644.5,341.0 645.5,341.0 646.5,341.0 647.5,341.0 648.5,341.0 649.5,341.0 650.5,341.0 651.5,341.0 652.5,341.0 653.5,341.0 654.5,341.0" stroke="#888888" stroke-width="2.6" stroke-linecap="square"/>
<polyline points="135.5,25.7 140.0,21.0 144.5,27.7 149.0,22.9 153.5,31.1 158.0,29.4 162.5,35.8 167.0,39.2 171.5,44.8 176.0,49.4 180.5,56.2 185.0,61.3 189.5,70.0 194.0,76.3 198.5,84.3 203.0,90.9 207.5,101.0 212.0,108.5 216.5,117.9 221.0,125.0 225.5,136.0 230.0,142.2 234.5,153.7 239.0,160.5 243.5,170.6 248.0,178.0 252.5,188.5 257.0,196.4 261.5,205.4 266.0,212.8 270.5,222.4 275.0,228.4 279.5,237.6 284.0,242.7 288.5,251.1 293.0,256.5 297.5,264.9 302.0,269.6 306.5,275.9 311.0,280.8 315.5,286.5 320.0,290.6 324.5,296.0 329.0,299.6 333.5,303.9 338.0,307.3 342.5,311.3 347.0,314.2 351.5,317.7 356.0,319.6 360.5,323.1 365.0,324.3 369.5,327.2 374.0,328.7 378.5,330.6 383.0,331.7 387.5,333.4 392.0,334.3 396.5,336.0 401.0,336.2 405.5,337.7 410.0,337.5 414.5,338.9 419.0,338.8 423.5,339.8 428.0,339.5 432.5,340.7 437.0,340.4 441.5,340.9 446.0,340.8 450.5,341.0 455.0,340.8 459.5,341.4 464.0,341.0 468.5,341.5 473.0,340.6 477.5,341.2 482.0,340.8 486.5,341.0 491.0,340.7 495.5,341.1 500.0,340.5 504.5,341.0 509.0,340.9 513.5,341.1 518.0,340.5 522.5,341.2 527.0,340.9 531.5,341.0 536.0,340.7 540.5,341.3 545.0,340.9 549.5,341.5 554.0,340.9 558.5,341.2 563.0,340.6 567.5,341.2 572.0,340.9 576.5,341.6 581.0,340.5 585.5,341.1 590.0,340.5" stroke="#000" stroke-width="3.8" stroke-dasharray="9.5 5"/>
<polyline points="135.5,99.6 140.0,98.1 144.5,100.6 149.0,98.4 153.5,100.6 158.0,100.5 162.5,103.7 167.0,103.6 171.5,108.2 176.0,107.8 180.5,111.9 185.0,113.2 189.5,118.8 194.0,119.2 198.5,126.8 203.0,128.9 207.5,134.3 212.0,137.5 216.5,142.0 221.0,145.1 225.5,150.1 230.0,154.0 234.5,158.9 239.0,162.5 243.5,168.5 248.0,172.5 252.5,178.8 257.0,182.6 261.5,188.7 266.0,193.0 270.5,199.1 275.0,203.6 279.5,209.6 284.0,214.7 288.5,220.7 293.0,224.6 297.5,230.9 302.0,235.3 306.5,241.5 311.0,245.4 315.5,252.1 320.0,256.2 324.5,261.5 329.0,265.2 333.5,270.4 338.0,273.8 342.5,279.3 347.0,282.3 351.5,287.7 356.0,289.7 360.5,294.0 365.0,297.2 369.5,300.9 374.0,302.4 378.5,306.6 383.0,307.7 387.5,311.6 392.0,313.4 396.5,316.5 401.0,317.3 405.5,319.8 410.0,320.7 414.5,323.2 419.0,324.4 423.5,326.6 428.0,327.3 432.5,329.1 437.0,329.2 441.5,332.0 446.0,332.2 450.5,334.0 455.0,333.9 459.5,335.7 464.0,335.4 468.5,336.6 473.0,336.5 477.5,337.9 482.0,337.1 486.5,338.5 491.0,338.2 495.5,339.5 500.0,339.2 504.5,340.7 509.0,339.5 513.5,341.1 518.0,340.3 522.5,341.4 527.0,339.9 531.5,341.2 536.0,340.2 540.5,341.2 545.0,340.2 549.5,341.6 554.0,340.9 558.5,341.8 563.0,340.5 567.5,341.7 572.0,340.8 576.5,341.1 581.0,340.7 585.5,341.9 590.0,340.8 594.5,341.8" stroke="#000" stroke-width="3.8" stroke-dasharray="9.5 5"/>
<polyline points="135.5,137.3 140.0,135.3 144.5,138.1 149.0,136.2 153.5,139.2 158.0,138.8 162.5,140.5 167.0,140.1 171.5,143.9 176.0,143.5 180.5,145.9 185.0,146.1 189.5,149.7 194.0,151.4 198.5,155.1 203.0,154.9 207.5,160.1 212.0,161.3 216.5,165.0 221.0,165.5 225.5,170.0 230.0,170.5 234.5,174.7 239.0,177.5 243.5,181.5 248.0,182.8 252.5,187.5 257.0,189.3 261.5,193.9 266.0,196.5 270.5,200.5 275.0,203.3 279.5,208.0 284.0,210.8 288.5,215.7 293.0,218.3 297.5,223.1 302.0,225.8 306.5,231.1 311.0,233.5 315.5,238.3 320.0,241.2 324.5,246.1 329.0,248.5 333.5,253.5 338.0,255.8 342.5,260.3 347.0,262.9 351.5,266.8 356.0,269.6 360.5,273.6 365.0,275.8 369.5,280.6 374.0,282.2 378.5,286.3 383.0,288.5 387.5,292.1 392.0,293.6 396.5,297.3 401.0,299.0 405.5,302.5 410.0,303.4 414.5,307.0 419.0,308.0 423.5,311.0 428.0,312.6 432.5,315.2 437.0,316.3 441.5,319.1 446.0,320.1 450.5,322.2 455.0,323.1 459.5,325.4 464.0,325.9 468.5,328.4 473.0,328.6 477.5,330.8 482.0,331.0 486.5,333.4 491.0,333.4 495.5,335.4 500.0,335.5 504.5,336.6 509.0,336.8 513.5,338.8 518.0,338.5 522.5,339.4 527.0,339.1 531.5,340.9 536.0,340.2 540.5,341.2 545.0,340.2 549.5,341.6 554.0,340.8 558.5,341.8 563.0,340.2 567.5,341.6 572.0,340.7 576.5,341.1 581.0,340.9 585.5,341.9 590.0,340.3 594.5,341.9" stroke="#000" stroke-width="3.8" stroke-dasharray="9.5 5"/>
<polyline points="135.5,162.0 140.0,160.2 144.5,163.2 149.0,161.0 153.5,161.7 158.0,160.4 162.5,163.0 167.0,161.3 171.5,163.8 176.0,162.9 180.5,166.8 185.0,164.5 189.5,168.9 194.0,168.1 198.5,170.6 203.0,170.6 207.5,174.7 212.0,174.0 216.5,176.8 221.0,178.5 225.5,181.9 230.0,182.3 234.5,184.6 239.0,185.0 243.5,188.8 248.0,190.6 252.5,194.0 257.0,194.2 261.5,198.9 266.0,201.0 270.5,204.6 275.0,205.7 279.5,209.3 284.0,211.9 288.5,215.4 293.0,217.4 297.5,220.6 302.0,222.5 306.5,227.1 311.0,228.8 315.5,232.4 320.0,235.2 324.5,238.9 329.0,241.0 333.5,244.3 338.0,247.0 342.5,250.2 347.0,253.0 351.5,256.5 356.0,258.3 360.5,262.4 365.0,264.6 369.5,267.8 374.0,269.5 378.5,273.6 383.0,275.1 387.5,278.6 392.0,280.3 396.5,283.8 401.0,285.5 405.5,289.1 410.0,290.6 414.5,294.4 419.0,295.3 423.5,298.8 428.0,299.8 432.5,303.1 437.0,304.0 441.5,307.3 446.0,308.1 450.5,311.8 455.0,312.5 459.5,315.0 464.0,316.1 468.5,319.3 473.0,319.1 477.5,322.4 482.0,322.5 486.5,325.1 491.0,325.8 495.5,327.7 500.0,328.0 504.5,330.4 509.0,330.8 513.5,332.2 518.0,332.7 522.5,334.5 527.0,334.3 531.5,335.9 536.0,335.5 540.5,336.9 545.0,336.7 549.5,338.2 554.0,338.4 558.5,339.4 563.0,338.7 567.5,340.0 572.0,340.1 576.5,341.9 581.0,340.7 585.5,341.3 590.0,340.2 594.5,341.3" stroke="#000" stroke-width="3.8" stroke-dasharray="9.5 5"/>
<polyline points="135.5,176.7 140.0,174.2 144.5,176.8 149.0,174.5 153.5,178.0 158.0,176.1 162.5,177.3 167.0,175.1 171.5,179.1 176.0,176.4 180.5,179.2 185.0,177.3 189.5,181.0 194.0,180.2 198.5,183.3 203.0,181.9 207.5,185.8 212.0,184.1 216.5,188.1 221.0,187.2 225.5,191.4 230.0,190.3 234.5,193.9 239.0,194.2 243.5,197.8 248.0,198.3 252.5,202.1 257.0,202.5 261.5,206.2 266.0,206.4 270.5,210.8 275.0,209.9 279.5,213.9 284.0,215.5 288.5,218.0 293.0,219.4 297.5,223.6 302.0,223.6 306.5,227.8 311.0,229.2 315.5,232.3 320.0,233.9 324.5,237.4 329.0,238.1 333.5,242.0 338.0,243.4 342.5,247.2 347.0,248.6 351.5,252.1 356.0,253.4 360.5,257.1 365.0,258.4 369.5,261.8 374.0,262.8 378.5,266.0 383.0,267.6 387.5,271.2 392.0,272.3 396.5,276.4 401.0,277.4 405.5,280.8 410.0,282.1 414.5,285.4 419.0,286.4 423.5,289.1 428.0,291.1 432.5,294.2 437.0,295.1 441.5,298.2 446.0,299.4 450.5,301.8 455.0,303.5 459.5,305.9 464.0,306.7 468.5,309.7 473.0,311.0 477.5,313.3 482.0,314.6 486.5,317.5 491.0,317.7 495.5,320.2 500.0,320.9 504.5,323.6 509.0,324.2 513.5,326.5 518.0,326.9 522.5,328.6 527.0,329.0 531.5,331.3 536.0,332.0 540.5,333.6 545.0,334.0 549.5,335.4 554.0,335.4 558.5,337.5 563.0,337.7 567.5,339.4 572.0,339.1 576.5,340.3 581.0,340.5 585.5,341.5 590.0,340.5 594.5,341.1" stroke="#000" stroke-width="3.8" stroke-dasharray="9.5 5"/>
</g>
<rect x="106.3" y="1.6" width="577.70" height="357.20" fill="none" stroke="#000" stroke-width="1.8"/>
<path d="M109.49,1.6v3.6M109.49,358.8v-3.6M135.50,1.6v7M135.50,358.8v-7M161.51,1.6v3.6M161.51,358.8v-3.6M187.52,1.6v3.6M187.52,358.8v-3.6M213.53,1.6v3.6M213.53,358.8v-3.6M239.54,1.6v3.6M239.54,358.8v-3.6M265.55,1.6v7M265.55,358.8v-7M291.56,1.6v3.6M291.56,358.8v-3.6M317.57,1.6v3.6M317.57,358.8v-3.6M343.58,1.6v3.6M343.58,358.8v-3.6M369.59,1.6v3.6M369.59,358.8v-3.6M395.60,1.6v7M395.60,358.8v-7M421.61,1.6v3.6M421.61,358.8v-3.6M447.62,1.6v3.6M447.62,358.8v-3.6M473.63,1.6v3.6M473.63,358.8v-3.6M499.64,1.6v3.6M499.64,358.8v-3.6M525.65,1.6v7M525.65,358.8v-7M551.66,1.6v3.6M551.66,358.8v-3.6M577.67,1.6v3.6M577.67,358.8v-3.6M603.68,1.6v3.6M603.68,358.8v-3.6M629.69,1.6v3.6M629.69,358.8v-3.6M655.70,1.6v7M655.70,358.8v-7M681.71,1.6v3.6M681.71,358.8v-3.6" stroke="#000" stroke-width="1.6" fill="none"/>
<path d="M106.3,355.62h4.2M684.0,355.62h-4.2M106.3,341.00h7.4M684.0,341.00h-7.4M106.3,326.38h4.2M684.0,326.38h-4.2M106.3,311.75h4.2M684.0,311.75h-4.2M106.3,297.12h4.2M684.0,297.12h-4.2M106.3,282.50h7.4M684.0,282.50h-7.4M106.3,267.88h4.2M684.0,267.88h-4.2M106.3,253.25h4.2M684.0,253.25h-4.2M106.3,238.62h4.2M684.0,238.62h-4.2M106.3,224.00h7.4M684.0,224.00h-7.4M106.3,209.38h4.2M684.0,209.38h-4.2M106.3,194.75h4.2M684.0,194.75h-4.2M106.3,180.12h4.2M684.0,180.12h-4.2M106.3,165.50h7.4M684.0,165.50h-7.4M106.3,150.88h4.2M684.0,150.88h-4.2M106.3,136.25h4.2M684.0,136.25h-4.2M106.3,121.62h4.2M684.0,121.62h-4.2M106.3,107.00h7.4M684.0,107.00h-7.4M106.3,92.38h4.2M684.0,92.38h-4.2M106.3,77.75h4.2M684.0,77.75h-4.2M106.3,63.12h4.2M684.0,63.12h-4.2M106.3,48.50h7.4M684.0,48.50h-7.4M106.3,33.88h4.2M684.0,33.88h-4.2M106.3,19.25h4.2M684.0,19.25h-4.2M106.3,4.62h4.2M684.0,4.62h-4.2" stroke="#000" stroke-width="1.6" fill="none"/>
<text font-family="Liberation Sans" font-size="29" transform="translate(86.48,351.50) scale(0.9150,1)">0</text>
<text font-family="Liberation Sans" font-size="29" transform="translate(86.78,293.00) scale(0.9150,1)">2</text>
<text font-family="Liberation Sans" font-size="29" transform="translate(86.22,234.50) scale(0.9150,1)">4</text>
<text font-family="Liberation Sans" font-size="29" transform="translate(86.61,176.00) scale(0.9150,1)">6</text>
<text font-family="Liberation Sans" font-size="29" transform="translate(86.60,117.50) scale(0.9150,1)">8</text>
<text font-family="Liberation Sans" font-size="29" transform="translate(72.19,59.00) scale(0.9000,1)">10</text>
<g transform="translate(53,246) rotate(-90)"><text font-family="Liberation Sans" font-size="30" transform="translate(-0.37,-0.62) scale(1.0058,1.0018)">(</text><text font-family="Liberation Sans" font-size="30" transform="translate(9.59,-0.02) scale(1.0377,1.0939)">d</text><text font-family="Liberation Sans" font-size="30" transform="translate(27.41,0.00) scale(1.0522,1.1289)">P</text><text font-family="Liberation Sans" font-size="30" transform="translate(48.20,5.22) scale(1.2358,1.2936)">/</text><text font-family="Liberation Sans" font-size="30" transform="translate(59.24,-0.02) scale(1.0007,1.0894)">d</text><text font-family="Liberation Sans" font-size="30" transform="translate(75.88,0.02) scale(0.9785,0.9456)">s</text><text font-family="Liberation Sans" font-size="30" transform="translate(90.92,-0.94) scale(1.0058,0.9732)">)</text><text font-family="Liberation Sans" font-size="30" transform="translate(100.70,4.74) scale(1.2238,1.2346)">/</text><text font-family="Liberation Sans" font-size="30" transform="translate(110.96,-0.20) scale(1.0710,1.1144)">P</text></g>
<text font-family="Liberation Sans" font-size="39" font-weight="bold" transform="translate(123.93,328.58) scale(1.0667,1.0398)">(a)</text>
<rect x="366.0" y="27.0" width="289.2" height="178.5" fill="#fff"/>
<g clip-path="url(#ci)" fill="none" stroke-linejoin="round">
<polyline points="366.0,39.1 384.1,40.0 402.2,41.9 420.2,44.5 444.6,49.6 463.4,54.6 473.8,58.4 488.4,64.2 500.0,68.4 511.7,73.7 523.4,81.3 540.0,92.4 548.2,100.5 555.0,107.2 567.2,119.4 576.8,130.5 582.9,140.0 601.0,171.0 615.0,205.5" stroke="#e8812f" stroke-width="2.6" stroke-linecap="square"/>
<polyline points="366.0,41.3 384.1,41.9 402.2,43.2 420.2,45.2 438.3,48.0 475.0,56.0 488.4,59.5 502.9,62.6 517.5,67.8 529.2,73.1 540.0,78.9 555.0,87.4 566.7,95.6 580.7,108.4 590.0,118.1 600.0,131.5 618.5,160.5" stroke="#15a878" stroke-width="2.6" stroke-linecap="square"/>
<polyline points="366.0,43.4 402.2,44.5 438.3,47.5 475.0,54.0 504.7,60.3 517.5,63.8 531.5,68.4 555.0,78.0 572.6,88.6 584.3,94.4 600.0,107.2 610.1,120.1 619.1,133.2 636.5,170.0 652.2,205.5" stroke="#cd474c" stroke-width="2.6" stroke-linecap="square"/>
<polyline points="366.0,44.9 402.2,45.5 438.3,47.2 475.0,51.7 505.8,57.3 519.3,60.8 532.7,65.5 555.0,72.2 572.6,79.2 584.3,86.2 600.0,96.7 619.1,116.1 636.5,145.0 655.2,176.0" stroke="#888888" stroke-width="2.6" stroke-linecap="square"/>
<polyline points="366.0,35.3 384.1,36.0 402.2,38.5 420.2,42.3 430.0,46.0 444.6,51.8 459.2,59.1 473.8,67.8 488.4,78.8 500.0,86.5 511.7,95.0 517.6,100.5 529.2,114.5 546.8,131.0 565.0,141.5 582.9,149.5 601.0,155.5 619.1,161.0 637.1,169.5 655.2,180.0" stroke="#2f62e6" stroke-width="2.6" stroke-linecap="square"/>
<polyline points="366.0,35.3 384.1,36.0 402.2,38.5 420.2,42.3 430.0,46.0 444.6,51.8 459.2,59.1 473.8,67.8 488.4,78.8 500.0,86.5 511.7,95.0 517.6,100.5 529.2,114.5 535.0,122.3 539.4,131.8 540.0,138.4 542.3,144.2 545.3,144.2 548.2,151.5 549.6,150.0 552.6,161.8 554.0,148.6 556.9,158.8 558.4,155.9 562.8,163.2" stroke="#000" stroke-width="3.5" stroke-dasharray="10.5 4"/>
<polyline points="366.0,39.1 384.1,40.0 402.2,41.9 420.2,44.5 444.6,49.6 463.4,54.6 473.8,58.4 488.4,64.2 500.0,68.4 511.7,73.7 523.4,81.3 540.0,92.4 548.2,100.5 555.0,107.2 567.2,119.4 576.8,130.5 578.8,144.2 583.8,148.4 586.7,160.2 589.0,176.4" stroke="#000" stroke-width="3.5" stroke-dasharray="10.5 4"/>
<polyline points="366.0,41.3 384.1,41.9 402.2,43.2 420.2,45.2 438.3,48.0 475.0,56.0 488.4,59.5 502.9,62.6 517.5,67.8 529.2,73.1 540.0,78.9 555.0,87.4 566.7,95.6 575.0,105.8 583.8,114.6 591.2,123.5 597.0,133.7 600.0,144.0 601.4,152.8 604.0,148.0 606.0,162.0 609.0,176.0" stroke="#000" stroke-width="3.5" stroke-dasharray="10.5 4"/>
<polyline points="366.0,43.4 402.2,44.5 438.3,47.5 475.0,54.0 504.7,60.3 517.5,63.8 531.5,68.4 555.0,78.0 572.6,88.6 586.7,98.5 594.1,107.3 599.2,117.6 602.9,127.9 605.8,136.7 608.0,147.0 610.2,160.2 612.0,170.0 610.0,178.0" stroke="#000" stroke-width="3.5" stroke-dasharray="10.5 4"/>
<polyline points="366.0,44.9 402.2,45.5 438.3,47.2 475.0,51.7 505.8,57.3 519.3,60.8 532.7,65.5 555.0,72.2 572.6,79.2 583.8,86.7 594.1,95.6 601.4,104.4 606.6,116.1 610.2,126.4 613.9,138.1 616.9,151.4 618.3,163.1 619.1,177.8" stroke="#000" stroke-width="3.5" stroke-dasharray="10.5 4"/>
</g>
<rect x="366.0" y="27.0" width="289.20" height="178.50" fill="none" stroke="#000" stroke-width="1.6"/>
<path d="M438.30,205.5v-4.5M438.30,27.0v4.5M510.60,205.5v-4.5M510.60,27.0v4.5M582.90,205.5v-4.5M582.90,27.0v4.5M366.0,171.90h4.5M655.2,171.90h-4.5M366.0,138.00h4.5M655.2,138.00h-4.5M366.0,104.10h4.5M655.2,104.10h-4.5M366.0,70.20h4.5M655.2,70.20h-4.5M366.0,36.30h4.5M655.2,36.30h-4.5" stroke="#000" stroke-width="1.5" fill="none"/>
<text font-family="Liberation Sans" font-size="21.8" transform="translate(350.88,231.00)">0.5</text>
<text font-family="Liberation Sans" font-size="21.8" transform="translate(423.20,231.00)">0.6</text>
<text font-family="Liberation Sans" font-size="21.8" transform="translate(495.57,231.00)">0.7</text>
<text font-family="Liberation Sans" font-size="21.8" transform="translate(567.80,231.00)">0.8</text>
<text font-family="Liberation Sans" font-size="21.8" transform="translate(640.14,231.00)">0.9</text>
<text font-family="Liberation Sans" font-size="22.5" transform="translate(336.56,44.30) scale(0.9500,1)">10</text>
<text font-family="Liberation Sans" font-size="22.5" transform="translate(348.66,78.20) scale(0.9500,1)">1</text>
<text font-family="Liberation Sans" font-size="22.5" transform="translate(330.83,112.10) scale(0.9500,1)">0.1</text>
<text font-family="Liberation Sans" font-size="15.5" transform="translate(342.61,136.50)">−2</text>
<text font-family="Liberation Sans" font-size="22.5" transform="translate(318.06,146.00) scale(0.9500,1)">10</text>
<text font-family="Liberation Sans" font-size="15.5" transform="translate(342.51,170.40)">−3</text>
<text font-family="Liberation Sans" font-size="22.5" transform="translate(318.06,179.90) scale(0.9500,1)">10</text>
<text font-family="Liberation Sans" font-size="15.5" transform="translate(342.28,204.30)">−4</text>
<text font-family="Liberation Sans" font-size="22.5" transform="translate(318.06,213.80) scale(0.9500,1)">10</text>
<path d="M106.3,638.80H684.0M106.3,577.10H684.0M106.3,515.40H684.0M106.3,453.70H684.0M106.3,392.00H684.0" stroke="#dadada" stroke-width="1.8" fill="none"/>
<g clip-path="url(#cb)" fill="none" stroke-linejoin="miter" stroke-miterlimit="10">
<polyline points="135.5,556.8 168.0,555.0 185.0,556.0 213.2,576.4 232.5,574.0 265.5,571.3 298.1,589.7 330.6,565.7 363.1,583.7 395.6,562.2 427.8,497.0 460.6,430.6" stroke="#2f62e6" stroke-width="3" stroke-linecap="square"/>
<polyline points="135.5,537.2 200.5,575.5 233.0,538.0 265.5,548.5 298.1,558.2 330.6,580.6 363.1,528.4 395.6,545.2 428.1,523.9 460.6,549.7 493.1,588.5 525.7,472.8" stroke="#e8812f" stroke-width="3" stroke-linecap="square"/>
<polyline points="135.5,551.4 168.0,555.0 200.5,549.0 233.0,531.4 265.5,545.0 298.1,550.0 330.6,540.0 363.1,525.9 395.6,556.0 428.1,528.3 460.6,537.1 525.7,500.0 558.2,422.2" stroke="#15a878" stroke-width="3" stroke-linecap="square"/>
<polyline points="135.5,549.6 168.0,544.8 200.5,563.8 233.0,562.6 265.5,554.7 298.1,601.0 330.6,531.5 363.1,561.3 395.6,553.4 428.1,532.7 460.6,524.5 525.7,524.6 582.6,392.6" stroke="#cd474c" stroke-width="3" stroke-linecap="square"/>
<polyline points="135.5,533.9 168.0,542.2 200.5,532.8 233.0,551.2 265.5,544.2 298.1,537.7 330.6,541.7 363.1,546.4 395.6,557.8 460.6,507.7 525.7,542.3 558.2,466.0 586.4,392.6" stroke="#888888" stroke-width="3" stroke-linecap="square"/>
</g>
<line x1="200.4" y1="574.0" x2="200.4" y2="595" stroke="#fff" stroke-opacity="0.8" stroke-width="7"/>
<line x1="200.4" y1="574.0" x2="200.4" y2="595" stroke="#a9a9a9" stroke-width="2"/>
<line x1="265.4" y1="545.5" x2="265.4" y2="496.5" stroke="#fff" stroke-opacity="0.8" stroke-width="7"/>
<line x1="265.4" y1="545.5" x2="265.4" y2="496.5" stroke="#a9a9a9" stroke-width="2"/>
<line x1="343.5" y1="530.5" x2="343.5" y2="445.5" stroke="#fff" stroke-opacity="0.8" stroke-width="7"/>
<line x1="343.5" y1="530.5" x2="343.5" y2="445.5" stroke="#a9a9a9" stroke-width="2"/>
<line x1="421.4" y1="549.5" x2="421.4" y2="595" stroke="#fff" stroke-opacity="0.8" stroke-width="7"/>
<line x1="421.4" y1="549.5" x2="421.4" y2="595" stroke="#a9a9a9" stroke-width="2"/>
<line x1="525.7" y1="543.0" x2="525.7" y2="595" stroke="#fff" stroke-opacity="0.8" stroke-width="7"/>
<line x1="525.7" y1="543.0" x2="525.7" y2="595" stroke="#a9a9a9" stroke-width="2"/>
<rect x="106.3" y="377.3" width="577.70" height="288.50" fill="none" stroke="#000" stroke-width="1.8"/>
<path d="M109.49,377.3v3.6M109.49,665.8v-3.6M135.50,377.3v7M135.50,665.8v-7M161.51,377.3v3.6M161.51,665.8v-3.6M187.52,377.3v3.6M187.52,665.8v-3.6M213.53,377.3v3.6M213.53,665.8v-3.6M239.54,377.3v3.6M239.54,665.8v-3.6M265.55,377.3v7M265.55,665.8v-7M291.56,377.3v3.6M291.56,665.8v-3.6M317.57,377.3v3.6M317.57,665.8v-3.6M343.58,377.3v3.6M343.58,665.8v-3.6M369.59,377.3v3.6M369.59,665.8v-3.6M395.60,377.3v7M395.60,665.8v-7M421.61,377.3v3.6M421.61,665.8v-3.6M447.62,377.3v3.6M447.62,665.8v-3.6M473.63,377.3v3.6M473.63,665.8v-3.6M499.64,377.3v3.6M499.64,665.8v-3.6M525.65,377.3v7M525.65,665.8v-7M551.66,377.3v3.6M551.66,665.8v-3.6M577.67,377.3v3.6M577.67,665.8v-3.6M603.68,377.3v3.6M603.68,665.8v-3.6M629.69,377.3v3.6M629.69,665.8v-3.6M655.70,377.3v7M655.70,665.8v-7M681.71,377.3v3.6M681.71,665.8v-3.6" stroke="#000" stroke-width="1.6" fill="none"/>
<path d="M106.3,663.35h4.2M684.0,663.35h-4.2M106.3,657.37h4.2M684.0,657.37h-4.2M106.3,652.49h4.2M684.0,652.49h-4.2M106.3,648.36h4.2M684.0,648.36h-4.2M106.3,644.78h4.2M684.0,644.78h-4.2M106.3,641.62h4.2M684.0,641.62h-4.2M106.3,638.80h7.0M684.0,638.80h-7.0M106.3,620.23h4.2M684.0,620.23h-4.2M106.3,609.36h4.2M684.0,609.36h-4.2M106.3,601.65h4.2M684.0,601.65h-4.2M106.3,595.67h4.2M684.0,595.67h-4.2M106.3,590.79h4.2M684.0,590.79h-4.2M106.3,586.66h4.2M684.0,586.66h-4.2M106.3,583.08h4.2M684.0,583.08h-4.2M106.3,579.92h4.2M684.0,579.92h-4.2M106.3,577.10h7.0M684.0,577.10h-7.0M106.3,558.53h4.2M684.0,558.53h-4.2M106.3,547.66h4.2M684.0,547.66h-4.2M106.3,539.95h4.2M684.0,539.95h-4.2M106.3,533.97h4.2M684.0,533.97h-4.2M106.3,529.09h4.2M684.0,529.09h-4.2M106.3,524.96h4.2M684.0,524.96h-4.2M106.3,521.38h4.2M684.0,521.38h-4.2M106.3,518.22h4.2M684.0,518.22h-4.2M106.3,515.40h7.0M684.0,515.40h-7.0M106.3,496.83h4.2M684.0,496.83h-4.2M106.3,485.96h4.2M684.0,485.96h-4.2M106.3,478.25h4.2M684.0,478.25h-4.2M106.3,472.27h4.2M684.0,472.27h-4.2M106.3,467.39h4.2M684.0,467.39h-4.2M106.3,463.26h4.2M684.0,463.26h-4.2M106.3,459.68h4.2M684.0,459.68h-4.2M106.3,456.52h4.2M684.0,456.52h-4.2M106.3,453.70h7.0M684.0,453.70h-7.0M106.3,435.13h4.2M684.0,435.13h-4.2M106.3,424.26h4.2M684.0,424.26h-4.2M106.3,416.55h4.2M684.0,416.55h-4.2M106.3,410.57h4.2M684.0,410.57h-4.2M106.3,405.69h4.2M684.0,405.69h-4.2M106.3,401.56h4.2M684.0,401.56h-4.2M106.3,397.98h4.2M684.0,397.98h-4.2M106.3,394.82h4.2M684.0,394.82h-4.2M106.3,392.00h7.0M684.0,392.00h-7.0" stroke="#000" stroke-width="1.5" fill="none"/>
<text font-family="Liberation Sans" font-size="29" transform="translate(43.19,402.50) scale(0.8900,1)">1000</text>
<text font-family="Liberation Sans" font-size="29" transform="translate(57.55,464.20) scale(0.8900,1)">100</text>
<text font-family="Liberation Sans" font-size="29" transform="translate(71.90,525.90) scale(0.8900,1)">10</text>
<text font-family="Liberation Sans" font-size="29" transform="translate(86.51,587.60) scale(0.8900,1)">1</text>
<text font-family="Liberation Sans" font-size="29" transform="translate(64.01,649.30) scale(0.9150,1)">0.1</text>
<text font-family="Liberation Sans" font-size="29" transform="translate(116.50,700.20) scale(0.9150,1)">0.5</text>
<text font-family="Liberation Sans" font-size="29" transform="translate(246.57,700.20) scale(0.9150,1)">0.6</text>
<text font-family="Liberation Sans" font-size="29" transform="translate(376.71,700.20) scale(0.9150,1)">0.7</text>
<text font-family="Liberation Sans" font-size="29" transform="translate(506.66,700.20) scale(0.9150,1)">0.8</text>
<text font-family="Liberation Sans" font-size="29" transform="translate(636.77,700.20) scale(0.9150,1)">0.9</text>
<text font-family="Liberation Sans" font-size="30" font-style="italic" transform="translate(388.97,749.50)">s</text>
<g transform="translate(24.1,597.5) rotate(-90)"><text font-family="Liberation Sans" font-size="30" transform="translate(-0.92,-1.06) scale(0.8636,1.0002)">|</text><text font-family="Liberation Sans" font-size="30" transform="translate(6.61,-0.02) scale(0.9414,1.1030)">d</text><text font-family="Liberation Serif" font-size="30" font-style="italic" transform="translate(22.16,0.02) scale(1.7672,1.6287)">ε</text><text font-family="Liberation Sans" font-size="30" transform="translate(44.20,4.73) scale(1.1998,1.2709)">/</text><text font-family="Liberation Sans" font-size="30" transform="translate(54.27,-0.02) scale(0.9784,1.1030)">d</text><text font-family="Liberation Sans" font-size="30" font-style="italic" transform="translate(72.63,0.01) scale(0.9223,0.9761)">s</text><text font-family="Liberation Sans" font-size="30" transform="translate(86.50,-1.19) scale(0.8225,0.9895)">|</text><text font-family="Liberation Sans" font-size="30" transform="translate(103.87,-0.47) scale(1.0938,1.0090)">(</text><text font-family="Liberation Sans" font-size="30" transform="translate(116.75,-0.18) scale(0.8926,1.0481)">%</text><text font-family="Liberation Sans" font-size="30" transform="translate(142.13,-0.47) scale(0.9681,1.0090)">)</text></g>
<text font-family="Liberation Sans" font-size="39" font-weight="bold" transform="translate(125.08,434.36) scale(1.0389,1.0426)">(b)</text>
<rect x="155.8" y="597.5" width="82.6" height="44.3" fill="#fff"/>
<rect x="157.0" y="598.7" width="80.2" height="41.9" fill="#d6e0f8"/>
<g transform="translate(157.61,602.04) scale(0.05076)" fill="none" stroke="#000" stroke-linecap="round"><path d="M208,150 Q214,192 248,198 Q290,200 318,188" stroke-width="24"/><circle cx="318" cy="196" r="18" fill="#000" stroke="none"/><path d="M252,200 C170,205 118,262 128,305 C138,345 190,352 292,356" stroke-width="32"/><path d="M150,326 C130,300 140,250 180,225" stroke-width="42"/><path d="M235,356 C120,360 52,420 62,480 C72,540 150,560 200,572 C245,584 250,620 215,640 C185,655 140,655 115,640" stroke-width="32"/><path d="M130,385 C80,420 60,470 80,520" stroke-width="46"/><circle cx="118" cy="636" r="20" fill="#000" stroke="none"/></g>
<rect x="176.5" y="618.9" width="15.7" height="2.0" fill="#000"/>
<rect x="176.5" y="624.9" width="15.7" height="2.0" fill="#000"/>
<text font-family="Liberation Sans" font-size="29" transform="translate(194.63,630.00) scale(0.9150,1)">0.5</text>
<rect x="226.1" y="448.8" width="83.1" height="45.1" fill="#fff"/>
<rect x="227.3" y="450.0" width="80.7" height="42.7" fill="#fae4d7"/>
<g transform="translate(227.91,454.14) scale(0.05076)" fill="none" stroke="#000" stroke-linecap="round"><path d="M208,150 Q214,192 248,198 Q290,200 318,188" stroke-width="24"/><circle cx="318" cy="196" r="18" fill="#000" stroke="none"/><path d="M252,200 C170,205 118,262 128,305 C138,345 190,352 292,356" stroke-width="32"/><path d="M150,326 C130,300 140,250 180,225" stroke-width="42"/><path d="M235,356 C120,360 52,420 62,480 C72,540 150,560 200,572 C245,584 250,620 215,640 C185,655 140,655 115,640" stroke-width="32"/><path d="M130,385 C80,420 60,470 80,520" stroke-width="46"/><circle cx="118" cy="636" r="20" fill="#000" stroke="none"/></g>
<rect x="246.8" y="471.0" width="15.7" height="2.0" fill="#000"/>
<rect x="246.8" y="477.0" width="15.7" height="2.0" fill="#000"/>
<text font-family="Liberation Sans" font-size="29" transform="translate(265.35,482.10) scale(0.9150,1)">1.0</text>
<rect x="299.6" y="397.2" width="82.2" height="44.5" fill="#fff"/>
<rect x="300.8" y="398.4" width="79.8" height="42.1" fill="#cdeee2"/>
<g transform="translate(301.41,401.94) scale(0.05076)" fill="none" stroke="#000" stroke-linecap="round"><path d="M208,150 Q214,192 248,198 Q290,200 318,188" stroke-width="24"/><circle cx="318" cy="196" r="18" fill="#000" stroke="none"/><path d="M252,200 C170,205 118,262 128,305 C138,345 190,352 292,356" stroke-width="32"/><path d="M150,326 C130,300 140,250 180,225" stroke-width="42"/><path d="M235,356 C120,360 52,420 62,480 C72,540 150,560 200,572 C245,584 250,620 215,640 C185,655 140,655 115,640" stroke-width="32"/><path d="M130,385 C80,420 60,470 80,520" stroke-width="46"/><circle cx="118" cy="636" r="20" fill="#000" stroke="none"/></g>
<rect x="320.3" y="418.8" width="15.7" height="2.0" fill="#000"/>
<rect x="320.3" y="424.8" width="15.7" height="2.0" fill="#000"/>
<text font-family="Liberation Sans" font-size="29" transform="translate(338.03,429.90) scale(0.9150,1)">1.5</text>
<rect x="383.3" y="597.2" width="82.6" height="44.2" fill="#fff"/>
<rect x="384.5" y="598.4" width="80.2" height="41.8" fill="#f5d7da"/>
<g transform="translate(385.11,601.64) scale(0.05076)" fill="none" stroke="#000" stroke-linecap="round"><path d="M208,150 Q214,192 248,198 Q290,200 318,188" stroke-width="24"/><circle cx="318" cy="196" r="18" fill="#000" stroke="none"/><path d="M252,200 C170,205 118,262 128,305 C138,345 190,352 292,356" stroke-width="32"/><path d="M150,326 C130,300 140,250 180,225" stroke-width="42"/><path d="M235,356 C120,360 52,420 62,480 C72,540 150,560 200,572 C245,584 250,620 215,640 C185,655 140,655 115,640" stroke-width="32"/><path d="M130,385 C80,420 60,470 80,520" stroke-width="46"/><circle cx="118" cy="636" r="20" fill="#000" stroke="none"/></g>
<rect x="404.0" y="618.5" width="15.7" height="2.0" fill="#000"/>
<rect x="404.0" y="624.5" width="15.7" height="2.0" fill="#000"/>
<text font-family="Liberation Sans" font-size="29" transform="translate(422.05,629.60) scale(0.9150,1)">2.0</text>
<rect x="490.2" y="597.2" width="82.7" height="44.2" fill="#fff"/>
<rect x="491.4" y="598.4" width="80.3" height="41.8" fill="#e6e6e6"/>
<g transform="translate(492.01,601.64) scale(0.05076)" fill="none" stroke="#000" stroke-linecap="round"><path d="M208,150 Q214,192 248,198 Q290,200 318,188" stroke-width="24"/><circle cx="318" cy="196" r="18" fill="#000" stroke="none"/><path d="M252,200 C170,205 118,262 128,305 C138,345 190,352 292,356" stroke-width="32"/><path d="M150,326 C130,300 140,250 180,225" stroke-width="42"/><path d="M235,356 C120,360 52,420 62,480 C72,540 150,560 200,572 C245,584 250,620 215,640 C185,655 140,655 115,640" stroke-width="32"/><path d="M130,385 C80,420 60,470 80,520" stroke-width="46"/><circle cx="118" cy="636" r="20" fill="#000" stroke="none"/></g>
<rect x="510.9" y="618.5" width="15.7" height="2.0" fill="#000"/>
<rect x="510.9" y="624.5" width="15.7" height="2.0" fill="#000"/>
<text font-family="Liberation Sans" font-size="29" transform="translate(529.13,629.60) scale(0.9150,1)">2.5</text>
</svg>
</body></html>
